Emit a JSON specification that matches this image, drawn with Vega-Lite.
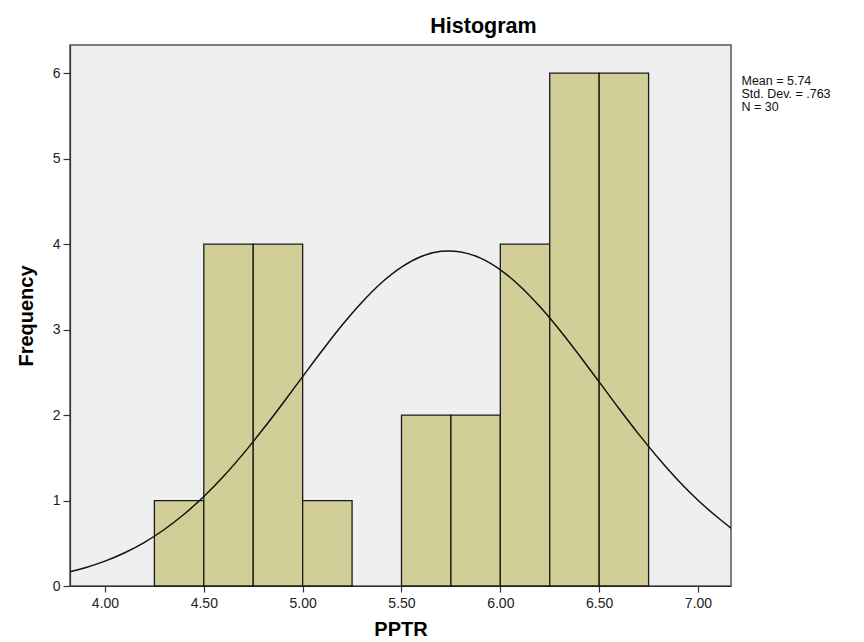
{
  "$schema": "https://vega.github.io/schema/vega-lite/v6.json",
  "autosize": {"type": "none"},
  "width": 661,
  "height": 541,
  "padding": {"left": 70, "top": 45, "right": 133, "bottom": 56},
  "background": "white",
  "config": {
    "font": "Liberation Sans",
    "view": {"fill": "#EFEFEF", "stroke": "#555555", "strokeWidth": 1.5}
  },
  "title": {
    "text": "Histogram",
    "font": "Liberation Sans",
    "fontSize": 21.5,
    "fontWeight": "bold",
    "color": "#000000",
    "anchor": "middle",
    "dx": 83,
    "offset": 8
  },
  "datasets": {
    "bins": [
      {"start": 4.25, "end": 4.5, "count": 1},
      {"start": 4.5, "end": 4.75, "count": 4},
      {"start": 4.75, "end": 5.0, "count": 4},
      {"start": 5.0, "end": 5.25, "count": 1},
      {"start": 5.5, "end": 5.75, "count": 2},
      {"start": 5.75, "end": 6.0, "count": 2},
      {"start": 6.0, "end": 6.25, "count": 4},
      {"start": 6.25, "end": 6.5, "count": 6},
      {"start": 6.5, "end": 6.75, "count": 6}
    ],
    "curve": [
      {"x": 3.823, "y": 0.166}, {"x": 3.9, "y": 0.214}, {"x": 4.0, "y": 0.291},
      {"x": 4.1, "y": 0.389}, {"x": 4.2, "y": 0.511}, {"x": 4.3, "y": 0.661},
      {"x": 4.4, "y": 0.839}, {"x": 4.5, "y": 1.047}, {"x": 4.6, "y": 1.284},
      {"x": 4.7, "y": 1.549}, {"x": 4.8, "y": 1.836}, {"x": 4.9, "y": 2.139},
      {"x": 5.0, "y": 2.450}, {"x": 5.1, "y": 2.758}, {"x": 5.2, "y": 3.053},
      {"x": 5.3, "y": 3.320}, {"x": 5.4, "y": 3.551}, {"x": 5.5, "y": 3.732},
      {"x": 5.6, "y": 3.856}, {"x": 5.7, "y": 3.916}, {"x": 5.74, "y": 3.921},
      {"x": 5.8, "y": 3.909}, {"x": 5.9, "y": 3.836}, {"x": 6.0, "y": 3.700},
      {"x": 6.1, "y": 3.508}, {"x": 6.2, "y": 3.269}, {"x": 6.3, "y": 2.995},
      {"x": 6.4, "y": 2.697}, {"x": 6.5, "y": 2.388}, {"x": 6.6, "y": 2.077},
      {"x": 6.7, "y": 1.777}, {"x": 6.8, "y": 1.494}, {"x": 6.9, "y": 1.234},
      {"x": 7.0, "y": 1.003}, {"x": 7.1, "y": 0.801}, {"x": 7.167, "y": 0.677}
    ],
    "stats": [
      {"label": "Mean = 5.74", "x": 7.22, "y": 5.862},
      {"label": "Std. Dev. = .763", "x": 7.22, "y": 5.710},
      {"label": "N = 30", "x": 7.22, "y": 5.557}
    ]
  },
  "layer": [
    {
      "data": {"name": "bins"},
      "mark": {"type": "rect", "fill": "#D2CE98", "stroke": "#1a1a1a", "strokeWidth": 1.3},
      "encoding": {
        "x": {
          "field": "start", "type": "quantitative",
          "scale": {"domain": [3.823, 7.167], "nice": false, "zero": false},
          "axis": {
            "title": "PPTR",
            "titleFont": "Liberation Sans", "titleFontSize": 20, "titleFontWeight": "bold",
            "titleColor": "#000000", "titlePadding": 9,
            "values": [4, 4.5, 5, 5.5, 6, 6.5, 7],
            "format": ".2f",
            "labelFont": "Liberation Sans", "labelFontSize": 14, "labelColor": "#222222",
            "labelPadding": 4,
            "tickSize": 6, "tickColor": "#333333", "tickWidth": 1.2,
            "domain": true, "domainColor": "#333333", "domainWidth": 1.2,
            "grid": false
          }
        },
        "x2": {"field": "end"},
        "y": {
          "field": "count", "type": "quantitative",
          "scale": {"domain": [0, 6.33], "nice": false},
          "axis": {
            "title": "Frequency",
            "titleFont": "Liberation Sans", "titleFontSize": 20, "titleFontWeight": "bold",
            "titleColor": "#000000", "titlePadding": 16,
            "values": [0, 1, 2, 3, 4, 5, 6],
            "format": "d",
            "labelFont": "Liberation Sans", "labelFontSize": 14, "labelColor": "#222222",
            "labelPadding": 3,
            "tickSize": 7, "tickColor": "#333333", "tickWidth": 1.2,
            "domain": true, "domainColor": "#333333", "domainWidth": 1.2,
            "grid": false
          }
        },
        "y2": {"datum": 0}
      }
    },
    {
      "data": {"name": "curve"},
      "mark": {"type": "line", "color": "#111111", "strokeWidth": 1.5, "interpolate": "monotone", "clip": true},
      "encoding": {
        "x": {"field": "x", "type": "quantitative"},
        "y": {"field": "y", "type": "quantitative"}
      }
    },
    {
      "data": {"name": "stats"},
      "mark": {"type": "text", "align": "left", "baseline": "alphabetic", "fontSize": 12.5, "font": "Liberation Sans", "color": "#111111"},
      "encoding": {
        "x": {"field": "x", "type": "quantitative"},
        "y": {"field": "y", "type": "quantitative"},
        "text": {"field": "label"}
      }
    }
  ]
}
